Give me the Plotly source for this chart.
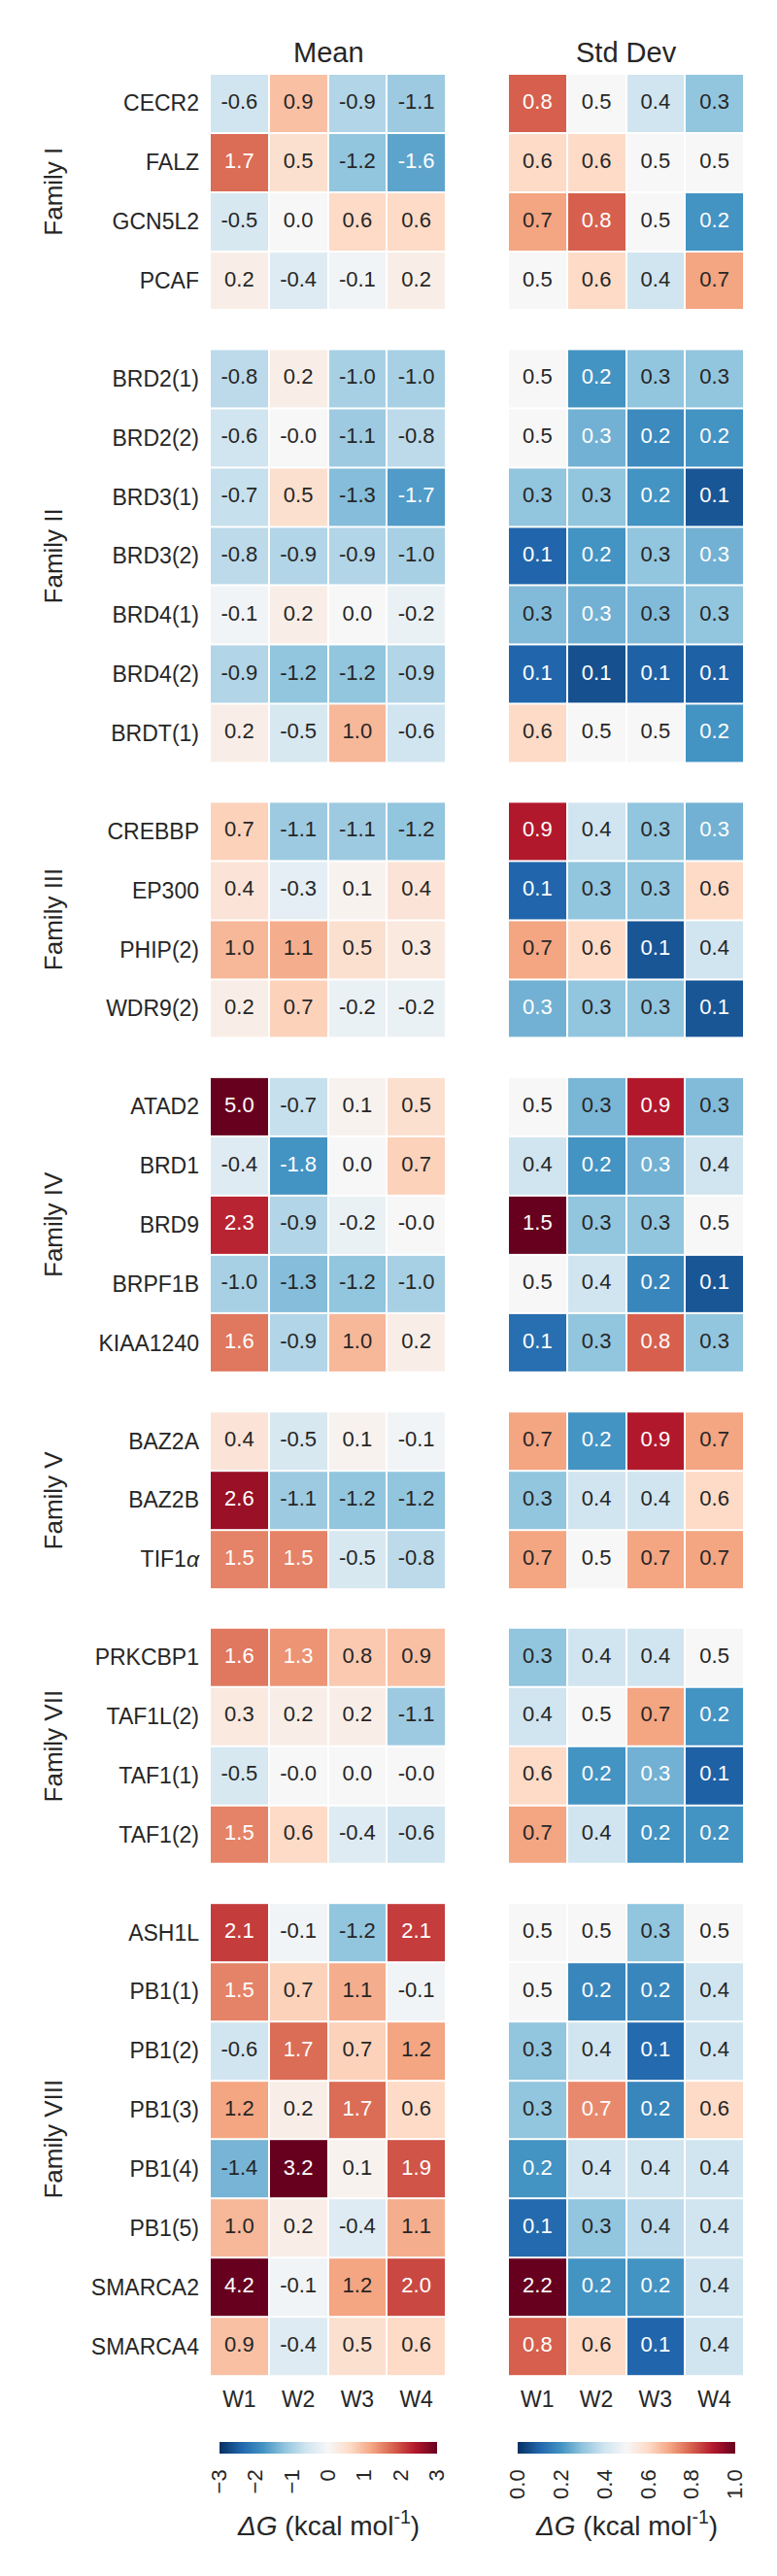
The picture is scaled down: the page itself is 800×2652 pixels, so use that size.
import plotly.graph_objects as go
from plotly.subplots import make_subplots

# ---------------- data ----------------
columns = ["W1", "W2", "W3", "W4"]
families = ["Family I", "Family II", "Family III", "Family IV", "Family V", "Family VII", "Family VIII"]

fam1_names = ["CECR2", "FALZ", "GCN5L2", "PCAF"]
fam1_mean = [[-0.6, 0.9, -0.9, -1.1], [1.7, 0.5, -1.2, -1.6], [-0.5, 0.0, 0.6, 0.6], [0.2, -0.4, -0.1, 0.2]]
fam1_std = [[0.8, 0.5, 0.4, 0.3], [0.6, 0.6, 0.5, 0.5], [0.7, 0.8, 0.5, 0.2], [0.5, 0.6, 0.4, 0.7]]

fam2_names = ["BRD2(1)", "BRD2(2)", "BRD3(1)", "BRD3(2)", "BRD4(1)", "BRD4(2)", "BRDT(1)"]
fam2_mean = [[-0.8, 0.2, -1.0, -1.0], [-0.6, -0.0, -1.1, -0.8], [-0.7, 0.5, -1.3, -1.7],
             [-0.8, -0.9, -0.9, -1.0], [-0.1, 0.2, 0.0, -0.2], [-0.9, -1.2, -1.2, -0.9], [0.2, -0.5, 1.0, -0.6]]
fam2_std = [[0.5, 0.2, 0.3, 0.3], [0.5, 0.26, 0.18, 0.2], [0.3, 0.3, 0.2, 0.07],
            [0.1, 0.2, 0.3, 0.26], [0.28, 0.26, 0.28, 0.3], [0.1, 0.06, 0.09, 0.09], [0.6, 0.5, 0.5, 0.2]]

fam3_names = ["CREBBP", "EP300", "PHIP(2)", "WDR9(2)"]
fam3_mean = [[0.7, -1.1, -1.1, -1.2], [0.4, -0.3, 0.1, 0.4], [1.0, 1.1, 0.5, 0.3], [0.2, 0.7, -0.2, -0.2]]
fam3_std = [[0.9, 0.4, 0.3, 0.26], [0.1, 0.3, 0.3, 0.6], [0.7, 0.6, 0.07, 0.4], [0.26, 0.3, 0.3, 0.07]]

fam4_names = ["ATAD2", "BRD1", "BRD9", "BRPF1B", "KIAA1240"]
fam4_mean = [[5.0, -0.7, 0.1, 0.5], [-0.4, -1.8, 0.0, 0.7], [2.3, -0.9, -0.2, -0.0],
             [-1.0, -1.3, -1.2, -1.0], [1.6, -0.9, 1.0, 0.2]]
fam4_std = [[0.5, 0.27, 0.9, 0.28], [0.4, 0.2, 0.26, 0.4], [1.5, 0.3, 0.3, 0.5],
            [0.5, 0.4, 0.17, 0.07], [0.12, 0.3, 0.8, 0.3]]

fam5_names = ["BAZ2A", "BAZ2B", "TIF1<i>α</i>"]
fam5_mean = [[0.4, -0.5, 0.1, -0.1], [2.6, -1.1, -1.2, -1.2], [1.5, 1.5, -0.5, -0.8]]
fam5_std = [[0.7, 0.2, 0.9, 0.7], [0.3, 0.4, 0.4, 0.6], [0.7, 0.5, 0.7, 0.7]]

fam7_names = ["PRKCBP1", "TAF1L(2)", "TAF1(1)", "TAF1(2)"]
fam7_mean = [[1.6, 1.349, 0.8, 0.9], [0.3, 0.2, 0.2, -1.1], [-0.5, -0.0, 0.0, -0.0], [1.5, 0.6, -0.4, -0.6]]
fam7_std = [[0.3, 0.4, 0.4, 0.5], [0.4, 0.5, 0.7, 0.2], [0.6, 0.2, 0.26, 0.09], [0.7, 0.4, 0.2, 0.2]]

fam8_names = ["ASH1L", "PB1(1)", "PB1(2)", "PB1(3)", "PB1(4)", "PB1(5)", "SMARCA2", "SMARCA4"]
fam8_mean = [[2.1, -0.1, -1.2, 2.1], [1.5, 0.7, 1.1, -0.1], [-0.6, 1.7, 0.7, 1.2], [1.2, 0.2, 1.7, 0.6],
             [-1.4, 3.2, 0.1, 1.9], [1.0, 0.2, -0.4, 1.1], [4.2, -0.1, 1.2, 2.0], [0.9, -0.4, 0.5, 0.6]]
fam8_std = [[0.5, 0.5, 0.3, 0.5], [0.5, 0.17, 0.17, 0.4], [0.3, 0.4, 0.11, 0.4], [0.3, 0.74, 0.17, 0.6],
            [0.2, 0.4, 0.4, 0.4], [0.11, 0.3, 0.37, 0.4], [2.2, 0.2, 0.2, 0.4], [0.8, 0.6, 0.1, 0.4]]

mean_ticks = [-3, -2, -1, 0, 1, 2, 3]
std_ticks = [0.0, 0.2, 0.4, 0.6, 0.8, 1.0]

groups = [
    (fam1_names, fam1_mean, fam1_std),
    (fam2_names, fam2_mean, fam2_std),
    (fam3_names, fam3_mean, fam3_std),
    (fam4_names, fam4_mean, fam4_std),
    (fam5_names, fam5_mean, fam5_std),
    (fam7_names, fam7_mean, fam7_std),
    (fam8_names, fam8_mean, fam8_std),
]

# ---------------- style ----------------
RDBU_R = [(0.0, (5, 48, 97)), (0.1, (33, 102, 172)), (0.2, (67, 147, 195)), (0.3, (146, 197, 222)),
          (0.4, (209, 229, 240)), (0.5, (247, 247, 247)), (0.6, (253, 219, 199)), (0.7, (244, 165, 130)),
          (0.8, (214, 96, 77)), (0.9, (178, 24, 43)), (1.0, (103, 0, 31))]
colorscale = [[p, "rgb(%d,%d,%d)" % c] for p, c in RDBU_R]

FONT = "Liberation Sans, Arial, sans-serif"
DARK = "#262626"


def cmap(t):
    t = min(max(t, 0.0), 1.0)
    for (p0, c0), (p1, c1) in zip(RDBU_R[:-1], RDBU_R[1:]):
        if t <= p1:
            f = (t - p0) / (p1 - p0)
            return tuple(a + (b - a) * f for a, b in zip(c0, c1))
    return RDBU_R[-1][1]


def text_color(v, vmin, vmax):
    rgb = cmap((v - vmin) / (vmax - vmin))
    lin = []
    for c in rgb:
        c = c / 255.0
        lin.append(c / 12.92 if c <= 0.03928 else ((c + 0.055) / 1.055) ** 2.4)
    lum = 0.2126 * lin[0] + 0.7152 * lin[1] + 0.0722 * lin[2]
    return DARK if lum > 0.408 else "white"


W, H = 800, 2652
ML, MR, MT, MB = 208, 42, 68, 214
plot_h = H - MT - MB
plot_w = W - ML - MR
gap_px = 40
col_gap_px = 64

counts = [len(g[0]) for g in groups]
fig = make_subplots(rows=len(groups), cols=2, row_heights=counts,
                    vertical_spacing=gap_px / plot_h,
                    horizontal_spacing=col_gap_px / plot_w)

for i, (names, mean, std) in enumerate(groups):
    r = i + 1
    for c, (vals, vmin, vmax, cax) in enumerate([(mean, -3, 3, "coloraxis"), (std, 0, 1, "coloraxis2")]):
        fig.add_trace(go.Heatmap(z=vals, x=columns, y=names, coloraxis=cax, xgap=2, ygap=2,
                                 hoverinfo="skip"), row=r, col=c + 1)
        xs, ys, ts, cs = [], [], [], []
        for name, row in zip(names, vals):
            for col, v in zip(columns, row):
                xs.append(col)
                ys.append(name)
                ts.append("%.1f" % v)
                cs.append(text_color(v, vmin, vmax))
        fig.add_trace(go.Scatter(x=xs, y=ys, mode="text", text=ts,
                                 textfont=dict(color=cs, size=22, family=FONT),
                                 hoverinfo="skip", showlegend=False), row=r, col=c + 1)
        last = (r == len(groups))
        fig.update_xaxes(showgrid=False, zeroline=False, showline=False, ticks="",
                         showticklabels=last, tickfont=dict(size=23, family=FONT, color=DARK),
                         ticklabelstandoff=8, row=r, col=c + 1)
        fig.update_yaxes(showgrid=False, zeroline=False, showline=False, ticks="",
                         autorange="reversed", showticklabels=(c == 0),
                         tickfont=dict(size=23, family=FONT, color=DARK),
                         ticklabelstandoff=10, row=r, col=c + 1)
    # family label
    yref = "y domain" if r == 1 else "y%d domain" % (2 * i + 1)
    fig.add_annotation(text=families[i], xref="paper", x=(47 - ML) / plot_w, xanchor="center",
                       yref=yref, y=0.5, yanchor="middle", textangle=-90, showarrow=False,
                       font=dict(size=26, family=FONT, color=DARK))

# panel titles
mean_center = (330 - ML) / plot_w
std_center = (637 - ML) / plot_w
for txt, xc in [("Mean", mean_center), ("Std Dev", std_center)]:
    fig.add_annotation(text=txt, xref="paper", x=xc, xanchor="center", yref="paper", y=1,
                       yanchor="bottom", yshift=4, showarrow=False,
                       font=dict(size=29, family=FONT, color=DARK))

# colorbar titles (placed below the rotated tick labels)
cb_title_y = (2438 - 2590) / plot_h
for xc in (mean_center, std_center):
    fig.add_annotation(text="<i>ΔG</i> (kcal mol<sup>-1</sup>)", xref="paper", x=xc, xanchor="center",
                       yref="paper", y=cb_title_y, yanchor="middle", showarrow=False,
                       font=dict(size=28, family=FONT, color=DARK))

cb_y = (2438 - 2506) / plot_h
cb_common = dict(orientation="h", xanchor="center", y=cb_y, yanchor="top",
                 len=244, lenmode="pixels", thickness=12, outlinewidth=0, ypad=0,
                 ticks="outside", ticklen=8, tickcolor="rgba(0,0,0,0)", tickangle=-90,
                 tickfont=dict(size=22, family=FONT, color=DARK))
fig.update_layout(
    width=W, height=H,
    margin=dict(l=ML, r=MR, t=MT, b=MB),
    paper_bgcolor="white", plot_bgcolor="white",
    font=dict(family=FONT, color=DARK),
    showlegend=False,
    coloraxis=dict(colorscale=colorscale, cmin=-3, cmax=3,
                   colorbar=dict(x=mean_center, tickvals=mean_ticks, **cb_common)),
    coloraxis2=dict(colorscale=colorscale, cmin=0, cmax=1,
                    colorbar=dict(x=std_center, tickvals=std_ticks, tickformat=".1f", **cb_common)),
)

fig.write_html("out.html")
